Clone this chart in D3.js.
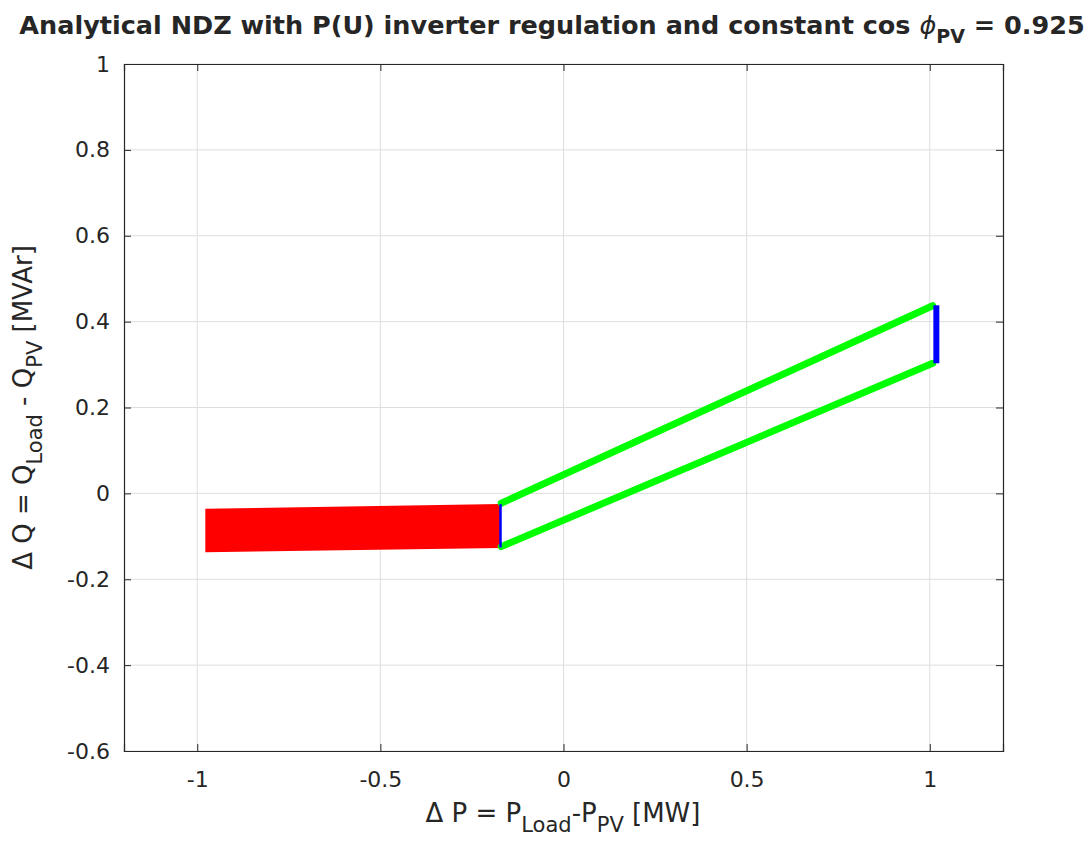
<!DOCTYPE html>
<html>
<head>
<meta charset="utf-8">
<script src="https://cdn.jsdelivr.net/npm/d3@7"></script>
<style>
  body { margin: 0; background: #fff; }
  text { font-family: "DejaVu Sans", sans-serif; fill: #262626; }
</style>
</head>
<body>
<script>
// data
const xTicks = [-1, -0.5, 0, 0.5, 1]
const yTicks = [-0.6, -0.4, -0.2, 0, 0.2, 0.4, 0.6, 0.8, 1]

// red area (NDZ without regulation effect)
const redX = [-0.978, -0.171, -0.171, -0.978]
const redY = [-0.036, -0.025, -0.127, -0.137]

// green boundaries
const greenUpperX = [-0.170, 1.008]
const greenUpperY = [-0.023, 0.437]
const greenLowerX = [-0.170, 1.008]
const greenLowerY = [-0.124, 0.303]

// blue closing edges
const blueLeftX = [-0.172, -0.172]
const blueLeftY = [-0.025, -0.126]
const blueRightX = [1.018, 1.018]
const blueRightY = [0.438, 0.303]

const WIDTH = 1088
const HEIGHT = 850
const mLeft = 124, mRight = 1003, mTop = 64, mBottom = 751

const svg = d3.select("body").append("svg")
    .attr("width", WIDTH)
    .attr("height", HEIGHT)

const x = d3.scaleLinear().domain([-1.2, 1.2]).range([mLeft, mRight])
const y = d3.scaleLinear().domain([-0.6, 1]).range([mBottom, mTop])

//------- grid -------
svg.append("g").selectAll("line")
  .data(xTicks)
  .enter().append("line")
  .attr("x1", d => x(d)).attr("x2", d => x(d))
  .attr("y1", mTop).attr("y2", mBottom)
  .attr("stroke", "#dedede").attr("stroke-width", 1)

svg.append("g").selectAll("line")
  .data(yTicks)
  .enter().append("line")
  .attr("x1", mLeft).attr("x2", mRight)
  .attr("y1", d => y(d)).attr("y2", d => y(d))
  .attr("stroke", "#dedede").attr("stroke-width", 1)

//------- data -------
const line = d3.line().x(d => x(d[0])).y(d => y(d[1]))
const zip = (a, b) => a.map((v, i) => [v, b[i]])

svg.append("path")
  .attr("d", line(zip(redX, redY)) + "Z")
  .attr("fill", "#ff0000")

svg.append("path")
  .attr("d", line(zip(greenUpperX, greenUpperY)))
  .attr("stroke", "#00ff00").attr("stroke-width", 7).attr("fill", "none")
  .attr("stroke-linecap", "round")

svg.append("path")
  .attr("d", line(zip(greenLowerX, greenLowerY)))
  .attr("stroke", "#00ff00").attr("stroke-width", 7).attr("fill", "none")
  .attr("stroke-linecap", "round")

svg.append("path")
  .attr("d", line(zip(blueLeftX, blueLeftY)))
  .attr("stroke", "#0000ff").attr("stroke-width", 2.5).attr("fill", "none")

svg.append("path")
  .attr("d", line(zip(blueRightX, blueRightY)))
  .attr("stroke", "#0000ff").attr("stroke-width", 6).attr("fill", "none")

//------- axes -------
const axisColor = "#262626"
const fmt = d => String(d)

const gx = svg.append("g").attr("transform", `translate(0,${mBottom})`)
  .call(d3.axisBottom(x).tickValues(xTicks).tickSize(-7).tickPadding(20).tickFormat(fmt))
const gxt = svg.append("g").attr("transform", `translate(0,${mTop})`)
  .call(d3.axisTop(x).tickValues(xTicks).tickSize(-7).tickFormat(""))
const gy = svg.append("g").attr("transform", `translate(${mLeft},0)`)
  .call(d3.axisLeft(y).tickValues(yTicks).tickSize(-7).tickPadding(14).tickFormat(fmt))
const gyr = svg.append("g").attr("transform", `translate(${mRight},0)`)
  .call(d3.axisRight(y).tickValues(yTicks).tickSize(-7).tickFormat(""))

;[gx, gxt, gy, gyr].forEach(g => {
  g.select(".domain").attr("stroke", axisColor).attr("stroke-width", 1.2)
  g.selectAll(".tick line").attr("stroke", axisColor)
  g.selectAll("text").attr("font-size", 22).attr("fill", axisColor)
    .attr("font-family", "DejaVu Sans, sans-serif")
})

//------- labels -------
const title = svg.append("text")
  .attr("x", 552).attr("y", 34)
  .attr("text-anchor", "middle")
  .attr("font-size", 25.5).attr("font-weight", "bold").attr("fill", "#000")
title.append("tspan").text("Analytical NDZ with P(U) inverter regulation and constant cos ")
title.append("tspan").text("\u03d5").attr("font-weight", "normal").attr("font-style", "italic")
title.append("tspan").text("PV").attr("dy", 9).attr("font-size", 19)
title.append("tspan").text(" = 0.925").attr("dy", -9)

const xl = svg.append("text")
  .attr("x", 563).attr("y", 822)
  .attr("text-anchor", "middle")
  .attr("font-size", 26)
xl.append("tspan").text("\u0394 P = P")
xl.append("tspan").text("Load").attr("dy", 10).attr("font-size", 21)
xl.append("tspan").text("-P").attr("dy", -10)
xl.append("tspan").text("PV").attr("dy", 10).attr("font-size", 21)
xl.append("tspan").text(" [MW]").attr("dy", -10)

const yl = svg.append("text")
  .attr("transform", `translate(32,${(mTop + mBottom) / 2}) rotate(-90)`)
  .attr("text-anchor", "middle")
  .attr("font-size", 26)
yl.append("tspan").text("\u0394 Q = Q")
yl.append("tspan").text("Load").attr("dy", 10).attr("font-size", 21)
yl.append("tspan").text(" - Q").attr("dy", -10)
yl.append("tspan").text("PV").attr("dy", 10).attr("font-size", 21)
yl.append("tspan").text(" [MVAr]").attr("dy", -10)
</script>
</body>
</html>
